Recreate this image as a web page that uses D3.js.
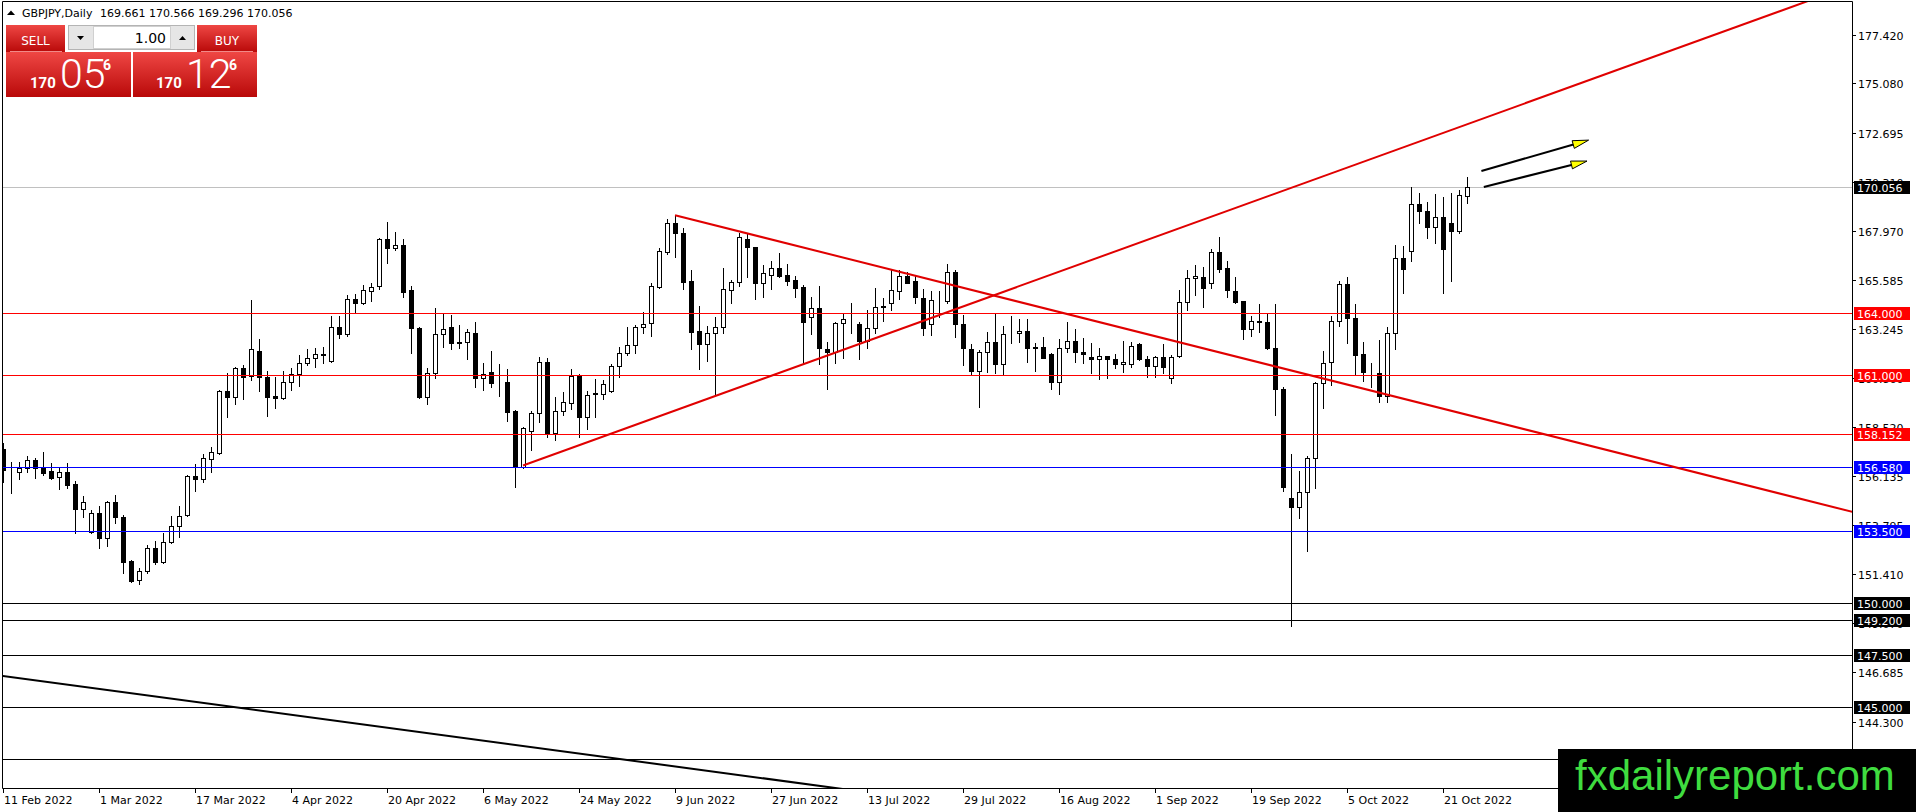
<!DOCTYPE html>
<html>
<head>
<meta charset="utf-8">
<script src="https://cdn.jsdelivr.net/npm/d3@7"></script>
<style>
html, body { margin: 0; padding: 0; background: #fff; overflow: hidden; }
</style>
</head>
<body>
<script>
const W = 1916
const H = 812
const plotRight = 1852
const plotBottom = 788

// GBPJPY daily candles, 11 Feb 2022 .. 26 Oct 2022
const opens = [157.45,156.36,156.32,156.51,156.91,156.51,156.38,156.08,156.32,155.75,
  154.53,153.46,154.34,153.14,154.87,154.18,152.04,151.13,151.56,152.65,
  151.98,152.97,153.73,154.26,156.14,155.98,156.96,157.27,160.24,159.93,
  161.33,160.96,162.18,160.90,160.00,159.89,160.66,161.04,161.57,161.81,
  162.04,161.70,163.34,162.97,164.66,164.50,165.08,165.30,167.55,167.12,
  167.28,165.11,163.26,159.97,161.09,162.97,163.31,162.54,162.62,163.02,
  160.88,161.14,160.64,160.67,159.27,156.56,158.31,159.16,161.65,158.20,
  159.29,159.64,160.98,158.97,160.11,160.08,160.25,161.44,162.09,162.44,
  163.31,163.53,165.27,166.96,168.32,167.84,165.54,163.13,162.49,163.02,
  163.34,165.11,165.48,167.55,167.17,165.43,165.83,166.15,165.83,165.59,
  165.27,163.82,164.23,162.27,162.10,163.50,163.45,163.45,162.67,163.26,
  164.31,164.47,165.08,165.78,165.54,164.71,163.45,164.63,164.59,165.96,
  163.45,162.27,161.22,162.10,162.59,161.54,163.05,163.02,163.13,162.34,
  162.34,162.01,160.69,162.30,162.67,162.10,161.87,161.77,161.93,161.77,
  161.53,161.53,162.50,161.77,161.46,161.87,160.85,161.93,164.51,165.67,
  165.75,165.43,166.93,166.15,165.06,164.58,163.21,163.59,163.58,162.33,
  160.32,155.10,154.66,155.39,156.99,160.61,161.65,163.63,165.38,163.78,
  162.01,161.10,161.09,160.00,163.05,166.64,166.99,169.24,168.93,168.13,
  168.61,168.35,167.97,169.661]
const highs = [157.72,156.83,156.80,157.10,157.00,157.28,156.75,156.56,156.75,155.92,
  155.19,154.50,154.71,154.94,155.23,154.26,152.09,151.69,152.81,153.01,
  153.38,154.21,154.69,156.19,156.72,157.19,157.52,160.29,161.09,161.41,
  161.49,164.63,162.73,161.20,160.93,161.20,161.33,161.97,162.25,162.30,
  162.38,163.86,163.86,164.87,164.92,165.35,165.46,167.60,168.40,167.89,
  167.57,165.30,163.34,161.36,164.26,164.02,163.90,163.42,163.23,163.55,
  161.57,162.17,161.52,161.28,159.32,158.49,159.27,161.86,161.81,159.93,
  160.17,161.28,161.04,160.25,160.80,160.77,161.54,162.38,163.34,163.42,
  164.06,165.43,167.12,168.52,168.72,168.08,166.10,164.34,163.37,163.82,
  166.19,165.59,167.84,167.84,167.20,166.31,166.52,166.92,166.36,165.80,
  165.35,164.76,165.30,162.59,163.58,163.95,164.47,163.58,164.15,165.19,
  164.71,166.07,166.07,165.99,165.78,165.14,165.08,165.08,166.39,166.10,
  163.90,162.50,162.22,163.07,163.95,163.37,163.85,163.71,163.71,162.54,
  162.83,162.09,162.75,163.55,163.23,162.81,162.54,162.30,161.93,162.01,
  162.67,162.59,162.57,161.93,161.93,162.50,161.97,165.11,166.07,166.31,
  166.20,167.07,167.68,166.52,165.75,164.60,163.86,164.43,163.95,164.43,
  160.45,157.20,156.38,157.11,160.69,162.17,163.87,165.54,165.72,164.42,
  162.59,161.57,162.70,163.34,167.28,167.23,170.09,169.77,169.37,169.74,
  169.58,169.77,169.93,170.566]
const lows = [155.87,155.31,155.98,156.35,156.06,156.19,156.01,155.50,155.58,153.38,
  154.15,153.41,152.65,152.78,153.86,151.45,151.05,150.93,151.45,151.88,
  151.93,152.93,153.22,154.23,155.43,155.87,156.35,157.20,159.00,159.60,
  159.84,160.77,160.24,159.05,159.44,159.84,160.29,160.50,161.49,161.38,
  161.61,161.65,162.78,162.91,164.06,164.45,164.60,165.16,166.40,167.04,
  164.79,162.06,159.92,159.61,160.88,162.38,162.26,162.33,161.77,160.45,
  160.29,160.45,160.00,158.81,155.59,156.51,157.39,158.76,158.00,157.88,
  159.08,159.35,158.00,158.39,159.00,159.84,160.17,160.93,161.97,162.06,
  163.05,162.89,165.22,166.84,166.68,165.14,162.25,161.30,161.68,160.05,
  163.05,164.47,165.32,165.75,164.66,164.78,165.14,165.72,165.35,164.78,
  161.57,162.99,161.54,160.33,161.57,161.81,163.05,161.77,162.33,163.02,
  163.61,164.14,164.66,165.43,164.50,162.94,162.94,163.82,164.47,162.86,
  161.49,161.06,159.45,161.14,161.09,161.06,162.57,162.62,161.65,161.22,
  161.81,160.33,160.08,162.14,161.65,161.60,161.12,160.80,160.85,161.33,
  161.17,161.41,161.73,160.90,160.93,161.09,160.64,161.86,164.15,164.87,
  164.27,165.19,165.99,164.76,164.47,162.73,162.91,163.10,162.25,159.08,
  155.43,148.91,154.13,152.54,155.58,159.40,160.53,163.39,162.57,161.06,
  160.74,160.45,159.73,159.73,162.26,164.98,166.52,168.32,167.60,167.39,
  164.98,165.56,167.84,169.296]
const closes = [156.45,156.33,156.51,156.91,156.51,156.30,156.06,156.32,155.71,154.53,
  154.90,154.34,153.14,154.87,154.15,151.98,151.09,151.56,152.65,151.98,
  152.94,153.73,154.23,156.14,155.98,156.99,157.28,160.24,159.93,161.33,
  160.93,162.25,160.90,159.97,159.89,160.66,161.04,161.57,161.81,162.02,
  162.00,163.34,162.97,164.66,164.50,165.11,165.27,167.55,167.12,167.28,
  165.03,163.26,159.97,161.09,162.97,163.21,162.54,162.62,163.07,160.88,
  161.04,160.64,160.62,159.24,156.56,158.44,159.16,161.65,158.20,159.29,
  159.72,160.98,158.97,160.05,160.15,160.56,161.44,162.09,162.44,163.34,
  163.45,165.30,166.99,168.32,167.84,165.51,163.10,162.49,163.02,163.34,
  165.14,165.51,167.65,167.17,165.43,165.94,166.15,165.78,165.54,165.22,
  163.58,164.23,162.30,162.14,163.50,163.69,163.46,162.67,163.26,164.27,
  164.32,165.11,165.78,165.46,164.79,163.29,164.63,164.64,165.96,163.45,
  162.33,161.22,162.10,162.59,161.54,162.97,163.06,163.13,162.33,162.32,
  161.85,160.69,162.30,162.67,162.10,162.01,161.77,161.93,161.77,161.53,
  161.62,162.43,161.77,161.46,161.87,161.38,161.90,164.51,165.67,165.79,
  165.19,166.93,166.12,165.11,164.55,163.21,163.63,163.61,162.33,160.32,
  155.59,154.66,155.39,156.99,160.61,161.61,163.63,165.38,163.78,161.97,
  161.17,161.09,160.00,163.05,166.64,166.11,169.24,168.93,168.13,168.61,
  167.07,167.97,169.69,170.056]

const dateLabels = ['11 Feb 2022', '1 Mar 2022', '17 Mar 2022', '4 Apr 2022', '20 Apr 2022', '6 May 2022',
  '24 May 2022', '9 Jun 2022', '27 Jun 2022', '13 Jul 2022', '29 Jul 2022', '16 Aug 2022',
  '1 Sep 2022', '19 Sep 2022', '5 Oct 2022', '21 Oct 2022']
const dateBars = [0, 12, 24, 36, 48, 60, 72, 84, 96, 108, 120, 132, 144, 156, 168, 180]

const priceTicks = [177.420, 175.080, 172.695, 170.310, 167.970, 165.585, 163.245, 160.860,
  158.520, 156.135, 153.795, 151.410, 149.070, 146.685, 144.300, 141.960]

// horizontal levels drawn on the chart
const levelPrices = [164.000, 161.000, 158.152, 156.580, 153.500, 150.000, 149.200, 147.500, 145.000, 142.500]
const levelKinds = ['red', 'red', 'red', 'blue', 'blue', 'black', 'black', 'black', 'black', 'black']
const bidPrice = 170.056

// trend lines: two anchors each, [bar, price]
const risingLine = [[65, 156.65], [226, 179.1]]
const fallingLine = [[84, 168.72], [231.1, 154.42]]
const blackLine = [[0, 146.5], [104, 141.1]]

// the two annotation arrows, [bar, price]
const arrowFrom = [[184.8, 170.85], [185.1, 170.08]]
const arrowTo = [[198.2, 172.34], [198.0, 171.33]]

const kindColor = { red: '#ff0000', blue: '#0000ff', black: '#000000' }

const svg = d3.select('body').append('svg')
  .attr('width', W).attr('height', H)
  .style('display', 'block')
  .style('font-family', '"DejaVu Sans", Verdana, sans-serif')

svg.append('rect').attr('width', W).attr('height', H).attr('fill', '#fff')

const x = d3.scaleLinear().domain([0, 183]).range([3, 1467])
const y = d3.scaleLinear().domain([141.098, 179.0]).range([plotBottom, 2])
const px = v => Math.round(v) + 0.5

const defs = svg.append('defs')
defs.append('clipPath').attr('id', 'plot')
  .append('rect').attr('x', 3).attr('y', 2).attr('width', plotRight - 3).attr('height', plotBottom - 2)
const grad = defs.append('linearGradient').attr('id', 'redGrad')
  .attr('x1', 0).attr('y1', 0).attr('x2', 0).attr('y2', 1)
grad.append('stop').attr('offset', 0).attr('stop-color', '#ef4744')
grad.append('stop').attr('offset', 1).attr('stop-color', '#b90909')

const plot = svg.append('g').attr('clip-path', 'url(#plot)')

// bid line
plot.append('line')
  .attr('x1', 2).attr('x2', plotRight)
  .attr('y1', px(y(bidPrice))).attr('y2', px(y(bidPrice)))
  .attr('stroke', '#c0c0c0')

// candles
const bars = d3.range(opens.length)
const candles = plot.append('g')
candles.selectAll('line.wick')
  .data(bars)
  .enter()
  .append('line')
  .classed('wick', true)
  .attr('x1', i => Math.round(x(i)) + 0.5)
  .attr('x2', i => Math.round(x(i)) + 0.5)
  .attr('y1', i => Math.round(y(highs[i])))
  .attr('y2', i => Math.round(y(lows[i])) + 1)
  .attr('stroke', '#000')

candles.selectAll('rect.body')
  .data(bars)
  .enter()
  .append('rect')
  .classed('body', true)
  .attr('x', i => Math.round(x(i)) - 1.5)
  .attr('width', 4)
  .attr('y', i => px(y(Math.max(opens[i], closes[i]))))
  .attr('height', i => {
    const h = Math.round(y(Math.min(opens[i], closes[i]))) - Math.round(y(Math.max(opens[i], closes[i])))
    return Math.max(h, 0)
  })
  .attr('fill', i => closes[i] >= opens[i] ? '#fff' : '#000')
  .attr('stroke', '#000')

// horizontal levels
plot.selectAll('line.level')
  .data(levelPrices)
  .enter()
  .append('line')
  .classed('level', true)
  .attr('x1', 2).attr('x2', plotRight)
  .attr('y1', d => px(y(d))).attr('y2', d => px(y(d)))
  .attr('stroke', (d, i) => kindColor[levelKinds[i]])

// trend lines
function ray(pts, fromBar, toBar) {
  const [a, b] = pts
  const slope = (b[1] - a[1]) / (b[0] - a[0])
  const at = bar => a[1] + slope * (bar - a[0])
  return [[x(fromBar), y(at(fromBar))], [x(toBar), y(at(toBar))]]
}
const trendSegs = [
  { pts: ray(risingLine, risingLine[0][0], 240), color: '#e00000', w: 2 },
  { pts: ray(fallingLine, fallingLine[0][0], 240), color: '#e00000', w: 2 },
  { pts: ray(blackLine, -10, 120), color: '#000', w: 2 }
]
plot.selectAll('line.trend')
  .data(trendSegs)
  .enter()
  .append('line')
  .classed('trend', true)
  .attr('x1', d => d.pts[0][0]).attr('y1', d => d.pts[0][1])
  .attr('x2', d => d.pts[1][0]).attr('y2', d => d.pts[1][1])
  .attr('stroke', d => d.color)
  .attr('stroke-width', d => d.w)

// arrows
arrowFrom.forEach((f, i) => {
  const sx = x(f[0]), sy = y(f[1])
  const tx = x(arrowTo[i][0]), ty = y(arrowTo[i][1])
  const len = Math.hypot(tx - sx, ty - sy)
  const ux = (tx - sx) / len, uy = (ty - sy) / len
  const bx = tx - 16 * ux, by = ty - 16 * uy
  plot.append('line')
    .attr('x1', sx).attr('y1', sy).attr('x2', bx + 2 * ux).attr('y2', by + 2 * uy)
    .attr('stroke', '#000').attr('stroke-width', 2)
  plot.append('polygon')
    .attr('points', [[tx, ty], [bx - 4 * uy, by + 4 * ux], [bx + 4 * uy, by - 4 * ux]].map(p => p.join(',')).join(' '))
    .attr('fill', '#ffff00').attr('stroke', '#000').attr('stroke-width', 1)
})

// frame
svg.append('line').attr('x1', 2.5).attr('x2', 2.5).attr('y1', 1.5).attr('y2', plotBottom + 0.5).attr('stroke', '#000')
svg.append('line').attr('x1', 2.5).attr('x2', plotRight + 0.5).attr('y1', 1.5).attr('y2', 1.5).attr('stroke', '#000')
svg.append('line').attr('x1', 2.5).attr('x2', plotRight + 0.5).attr('y1', plotBottom + 0.5).attr('y2', plotBottom + 0.5).attr('stroke', '#000')
svg.append('line').attr('x1', plotRight + 0.5).attr('x2', plotRight + 0.5).attr('y1', 1.5).attr('y2', plotBottom + 0.5).attr('stroke', '#000')

// price axis
const yAxis = svg.append('g').style('font-size', '11px')
yAxis.selectAll('line.ptick')
  .data(priceTicks)
  .enter()
  .append('line')
  .classed('ptick', true)
  .attr('x1', plotRight + 1).attr('x2', plotRight + 4)
  .attr('y1', d => px(y(d))).attr('y2', d => px(y(d)))
  .attr('stroke', '#000')
yAxis.selectAll('text.plabel')
  .data(priceTicks)
  .enter()
  .append('text')
  .classed('plabel', true)
  .attr('x', plotRight + 6)
  .attr('y', d => Math.round(y(d)) + 4.5)
  .attr('fill', '#000')
  .text(d => d.toFixed(3))

// level price boxes
const boxes = levelPrices.map((p, i) => ({ p, color: kindColor[levelKinds[i]] }))
boxes.push({ p: bidPrice, color: '#000' })
const boxG = yAxis.selectAll('g.box')
  .data(boxes)
  .enter()
  .append('g')
  .classed('box', true)
  .attr('transform', d => `translate(${plotRight + 2} ${Math.round(y(d.p)) - 6})`)
boxG.append('rect').attr('width', 56).attr('height', 13).attr('fill', d => d.color)
boxG.append('text').attr('x', 3).attr('y', 10.5).attr('fill', '#fff').text(d => d.p.toFixed(3))

// time axis
const xAxis = svg.append('g').style('font-size', '11px')
xAxis.selectAll('line.xtick')
  .data(dateBars)
  .enter()
  .append('line')
  .classed('xtick', true)
  .attr('x1', d => Math.round(x(d)) + 0.5).attr('x2', d => Math.round(x(d)) + 0.5)
  .attr('y1', plotBottom + 1).attr('y2', plotBottom + 5)
  .attr('stroke', '#000')
xAxis.selectAll('text.xlabel')
  .data(dateBars)
  .enter()
  .append('text')
  .classed('xlabel', true)
  .attr('x', d => Math.round(x(d)) + 1)
  .attr('y', 804)
  .attr('fill', '#000')
  .text((d, i) => dateLabels[i])

// header
svg.append('polygon').attr('points', '7,15 15,15 11,10.5').attr('fill', '#000')
svg.append('text').attr('x', 22).attr('y', 17).style('font-size', '11px').text('GBPJPY,Daily')
svg.append('text').attr('x', 100).attr('y', 17).style('font-size', '11px').text('169.661 170.566 169.296 170.056')

// one-click trading panel
const panel = svg.append('g')
panel.append('rect').attr('x', 6).attr('y', 25).attr('width', 59).attr('height', 27).attr('fill', 'url(#redGrad)')
panel.append('rect').attr('x', 197).attr('y', 25).attr('width', 60).attr('height', 27).attr('fill', 'url(#redGrad)')
panel.append('rect').attr('x', 6).attr('y', 52).attr('width', 125).attr('height', 45).attr('fill', 'url(#redGrad)')
panel.append('rect').attr('x', 133).attr('y', 52).attr('width', 124).attr('height', 45).attr('fill', 'url(#redGrad)')
panel.append('line').attr('x1', 10).attr('x2', 62).attr('y1', 51.5).attr('y2', 51.5).attr('stroke', '#f08a88')
panel.append('line').attr('x1', 201).attr('x2', 253).attr('y1', 51.5).attr('y2', 51.5).attr('stroke', '#f08a88')
panel.append('text').attr('x', 35.5).attr('y', 45).attr('text-anchor', 'middle')
  .attr('fill', '#fff').style('font-size', '12px').text('SELL')
panel.append('text').attr('x', 227).attr('y', 45).attr('text-anchor', 'middle')
  .attr('fill', '#fff').style('font-size', '12px').text('BUY')

panel.append('rect').attr('x', 68.5).attr('y', 25.5).attr('width', 126).attr('height', 24)
  .attr('fill', '#e6e6e6').attr('stroke', '#b4b4b4')
panel.append('rect').attr('x', 93.5).attr('y', 26.5).attr('width', 77).attr('height', 22)
  .attr('fill', '#fff').attr('stroke', '#d0d0d0')
panel.append('polygon').attr('points', '77,36 84,36 80.5,40').attr('fill', '#000')
panel.append('polygon').attr('points', '179,40 186,40 182.5,36').attr('fill', '#000')
panel.append('text').attr('x', 166).attr('y', 43).attr('text-anchor', 'end')
  .style('font-size', '14px').attr('fill', '#000').text('1.00')

const priceText = (x0, small, big, sup) => {
  panel.append('text').attr('x', x0).attr('y', 88).attr('fill', '#fff')
    .style('font-family', 'Roboto, sans-serif').style('font-weight', 700).style('font-size', '15px').text(small)
  panel.append('text').attr('x', x0 + 30).attr('y', 88).attr('fill', '#fff')
    .style('font-family', 'Roboto, sans-serif').style('font-weight', 300).style('font-size', '41px').text(big)
  panel.append('text').attr('x', x0 + 73).attr('y', 70).attr('fill', '#fff')
    .style('font-family', 'Roboto, sans-serif').style('font-weight', 700).style('font-size', '14px').text(sup)
}
priceText(30, '170', '05', '6')
priceText(156, '170', '12', '6')

// watermark
svg.append('rect').attr('x', 1558).attr('y', 749).attr('width', W - 1558).attr('height', H - 749).attr('fill', '#000')
svg.append('text').attr('x', 1575).attr('y', 790)
  .style('font-family', '"Liberation Sans", Arial, sans-serif').style('font-size', '42px')
  .attr('fill', '#3fdc3f').text('fxdailyreport.com')
</script>
</body>
</html>
